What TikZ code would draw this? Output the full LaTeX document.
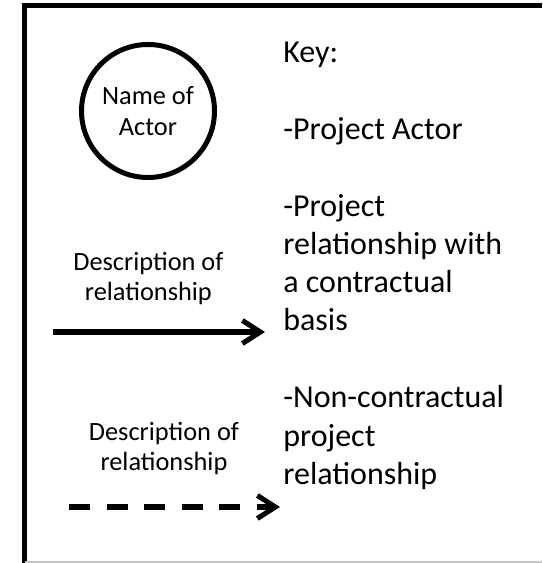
\documentclass[tikz,border=0pt]{standalone}
\usepackage{fontspec}
\setmainfont{Carlito}
\usetikzlibrary{arrows.meta}

\begin{document}
\begin{tikzpicture}[
    thickline/.style={line width=2.85pt},
    actor/.style={draw,circle,thickline,minimum size=2.66cm,inner sep=0pt,align=center,font=\fontsize{15}{17.6}\selectfont},
    keytext/.style={anchor=base west,inner sep=0pt,align=left,font=\fontsize{18.2}{21.8}\selectfont},
    desc/.style={inner sep=0pt,align=center,font=\fontsize{15}{17.1}\selectfont},
    contract/.style={thickline,-{Straight Barb[length=0.36cm,width=0.46cm]}},
    noncontract/.style={contract,dash pattern=on 0.42cm off 0.33cm}
  ]
  \useasboundingbox (0,0) rectangle (10.84,11.26);
  % frame
  \draw[thickline] (0.49,0) -- (0.49,11.14) -- (10.84,11.14);
  \draw[gray!45,line width=0.57pt] (0.49,0.02) -- (10.84,0.02);

  \node[actor] (actor) at (2.96, 9.04) {Name of\\Actor};

  % key, anchored on the baseline of each block's last line
  \node[keytext] (keyhead) at (5.66, 10.00) {Key:};
  \node[keytext] (keyactor) at (5.66, 8.47) {-Project Actor};
  \node[keytext] (keycontract) at (5.66, 4.64) {-Project\\relationship with\\a contractual\\basis};
  \node[keytext] (keynon) at (5.66, 1.57) {-Non-contractual\\project\\relationship};

  \coordinate (c1start) at (1.06, 4.62);
  \coordinate (c1end) at (5.30, 4.62);
  \coordinate (c2start) at (1.38, 1.12);
  \coordinate (c2end) at (5.60, 1.12);

  \draw[contract] (c1start) -- node[desc, pos=0.45, above=0.5cm] {Description of\\relationship} (c1end);
  \draw[noncontract] (c2start) -- node[desc, pos=0.45, above=0.6cm] {Description of\\relationship} (c2end);
\end{tikzpicture}
\end{document}
